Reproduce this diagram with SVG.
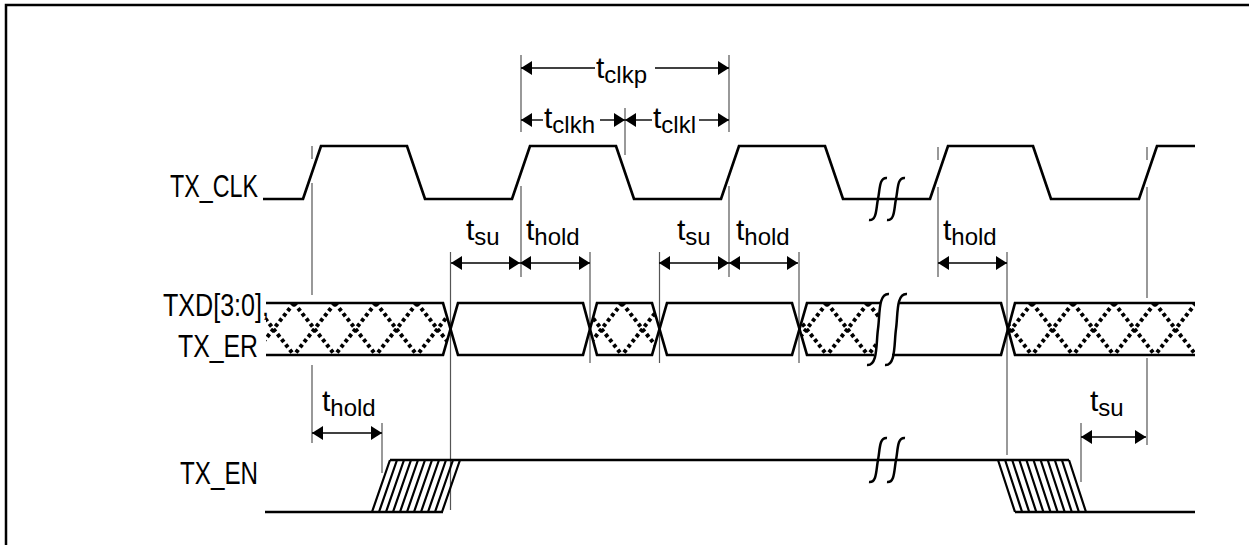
<svg xmlns="http://www.w3.org/2000/svg" width="1249" height="545" viewBox="0 0 1249 545">
<style>
.wave{fill:none;stroke:#000;stroke-width:2.7;stroke-linejoin:miter}
.hat{fill:none;stroke:#000;stroke-width:2.2}
.guide{fill:none;stroke:#555;stroke-width:1.2}
.dim{fill:none;stroke:#000;stroke-width:1.4}
.brk{fill:none;stroke:#000;stroke-width:2.5}
.lbl{font-family:"Liberation Sans",Arial,sans-serif;font-size:31px;fill:#000}
.t{font-family:"Liberation Sans",Arial,sans-serif;font-size:30px;fill:#000}
.sub{font-size:24px}
</style>
<defs>
<marker id="ah" viewBox="0 0 11 14" refX="11" refY="7" markerWidth="11" markerHeight="14" markerUnits="userSpaceOnUse" orient="auto-start-reverse">
<path d="M0,0 L11,7 L0,14 Z" fill="#000"/>
</marker>
<pattern id="xh" patternUnits="userSpaceOnUse" x="253" y="303" width="41" height="52">
<path d="M0,0 L41,52 M41,0 L0,52" stroke="#000" stroke-width="4" stroke-dasharray="3.6 3"/>
</pattern>
</defs>
<rect x="0" y="0" width="1249" height="545" fill="#fff"/>
<rect x="6" y="5" width="1300" height="600" fill="none" stroke="#000" stroke-width="2.5"/>

<g id="labels">
<text class="lbl" x="170" y="197" textLength="88" lengthAdjust="spacingAndGlyphs">TX_CLK</text>
<text class="lbl" x="163" y="316" textLength="106" lengthAdjust="spacingAndGlyphs">TXD[3:0],</text>
<text class="lbl" x="178" y="357" textLength="80" lengthAdjust="spacingAndGlyphs">TX_ER</text>
<text class="lbl" x="180" y="484" textLength="78" lengthAdjust="spacingAndGlyphs">TX_EN</text>
</g>

<g id="guides">
<path class="guide" d="M312,146 V159 M312,183 V295 M312,365 V443"/>
<path class="guide" d="M521,55 V132 M521,186 V277"/>
<path class="guide" d="M625,108 V155"/>
<path class="guide" d="M729,55 V132 M729,186 V277"/>
<path class="guide" d="M938,147 V160 M938,187 V277"/>
<path class="guide" d="M1147,147 V160 M1147,187 V298 M1147,358 V445"/>
<path class="guide" d="M450.5,252 V510"/>
<path class="guide" d="M590,252 V363"/>
<path class="guide" d="M659.5,252 V363"/>
<path class="guide" d="M799,252 V363"/>
<path class="guide" d="M1007,252 V455"/>
<path class="guide" d="M382,423 V473"/>
<path class="guide" d="M1081,423 V482"/>
</g>

<g id="tx_clk">
<path class="wave" d="M263,199 H303 L321,146 H407 L425,199 H512 L530,146 H616 L634,199 H721 L739,146 H825 L843,199 H930 L948,146 H1033 L1051,199 H1139 L1157,146 H1195"/>
<path class="brk" d="M887,178 C879,177 880,190 878,199 C876,208 877,221 869,220"/>
<path class="brk" d="M905,178 C897,177 898,190 896,199 C894,208 895,221 887,220"/>
</g>

<g id="txd">
<polygon points="266,303 443,303 450.5,329 443,355 266,355" fill="url(#xh)"/>
<polygon points="590,329 597,303 652,303 659.5,329 652,355 597,355" fill="url(#xh)"/>
<polygon points="799,329 807,303 879,303 876,355 807,355" fill="url(#xh)"/>
<polygon points="1008,329 1015,303 1195,303 1195,355 1015,355" fill="url(#xh)"/>
<path class="wave" d="M266,303 H443 L458,355 H583 L597,303 H652 L667,355 H792 L807,303 H880"/>
<path class="wave" d="M266,355 H443 L458,303 H583 L597,355 H652 L667,303 H792 L807,355 H874"/>
<path class="wave" d="M899,303 H1001 L1015,355 H1195"/>
<path class="wave" d="M892,355 H1001 L1015,303 H1195"/>
<path class="brk" d="M889,294 C878,293 880,315 878,329 C876,343 878,366 867,365"/>
<path class="brk" d="M907,294 C896,293 898,315 896,329 C894,343 896,366 885,365"/>
</g>

<g id="tx_en">
<path class="wave" d="M265,512 H443 M390,460 H1069 M1015,512 H1195"/>
<path class="hat" d="M372,512 L390,460 M379,512 L397,460 M386,512 L404,460 M393,512 L411,460 M400,512 L418,460 M407,512 L425,460 M414,512 L432,460 M421,512 L439,460 M428,512 L446,460 M435,512 L453,460 M442,512 L460,460"/>
<path class="hat" d="M998,460 L1015,512 M1005.1,460 L1022.1,512 M1012.2,460 L1029.2,512 M1019.3,460 L1036.3,512 M1026.4,460 L1043.4,512 M1033.5,460 L1050.5,512 M1040.6,460 L1057.6,512 M1047.7,460 L1064.7,512 M1054.8,460 L1071.8,512 M1061.9,460 L1078.9,512 M1069,460 L1086,512"/>
<path class="brk" d="M887,438 C879,437 880,450 878,460 C876,470 877,483 869,482"/>
<path class="brk" d="M905,438 C897,437 898,450 896,460 C894,470 895,483 887,482"/>
</g>

<g id="connectors">
<path class="dim" d="M521,68 H595" marker-start="url(#ah)"/>
<path class="dim" d="M655,68 H729" marker-end="url(#ah)"/>
<path class="dim" d="M521,120 H543" marker-start="url(#ah)"/>
<path class="dim" d="M600,120 H625" marker-end="url(#ah)"/>
<path class="dim" d="M625,120 H652" marker-start="url(#ah)"/>
<path class="dim" d="M699,120 H729" marker-end="url(#ah)"/>
<path class="dim" d="M451,263 H520" marker-start="url(#ah)" marker-end="url(#ah)"/>
<path class="dim" d="M520,263 H590" marker-start="url(#ah)" marker-end="url(#ah)"/>
<path class="dim" d="M659,263 H729" marker-start="url(#ah)" marker-end="url(#ah)"/>
<path class="dim" d="M729,263 H798" marker-start="url(#ah)" marker-end="url(#ah)"/>
<path class="dim" d="M938,263 H1007" marker-start="url(#ah)" marker-end="url(#ah)"/>
<path class="dim" d="M312,433 H382" marker-start="url(#ah)" marker-end="url(#ah)"/>
<path class="dim" d="M1081,437 H1146" marker-start="url(#ah)" marker-end="url(#ah)"/>
</g>

<g id="timing-labels">
<text class="t" x="596" y="78">t<tspan class="sub" dy="5">clkp</tspan></text>
<text class="t" x="544" y="128">t<tspan class="sub" dy="5">clkh</tspan></text>
<text class="t" x="653" y="128">t<tspan class="sub" dy="5">clkl</tspan></text>
<text class="t" x="466" y="240">t<tspan class="sub" dy="5">su</tspan></text>
<text class="t" x="526" y="240">t<tspan class="sub" dy="5">hold</tspan></text>
<text class="t" x="677" y="240">t<tspan class="sub" dy="5">su</tspan></text>
<text class="t" x="736" y="240">t<tspan class="sub" dy="5">hold</tspan></text>
<text class="t" x="943" y="240">t<tspan class="sub" dy="5">hold</tspan></text>
<text class="t" x="322" y="411">t<tspan class="sub" dy="5">hold</tspan></text>
<text class="t" x="1090" y="411">t<tspan class="sub" dy="5">su</tspan></text>
</g>
</svg>
